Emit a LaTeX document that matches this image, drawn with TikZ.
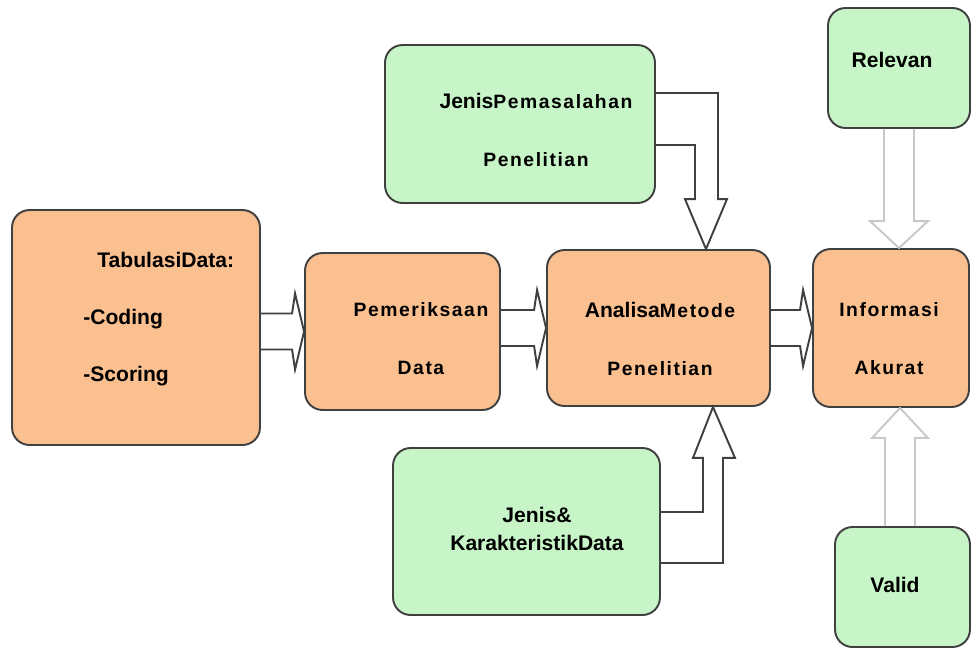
\documentclass[tikz,border=0pt]{standalone}
\usepackage{fontspec}
\setmainfont{Liberation Sans}
\newfontfamily\jarang[LetterSpace=8]{Liberation Sans}
\usetikzlibrary{calc,positioning}
\definecolor{kotakoranye}{RGB}{250,192,144}
\definecolor{kotakhijau}{RGB}{199,245,199}
\definecolor{garisgelap}{RGB}{64,64,64}
\definecolor{garisterang}{RGB}{200,200,200}
\newcommand{\tebal}{\fontsize{12}{14.4}\selectfont\rmfamily\bfseries}
\newcommand{\renggang}{\fontsize{11}{14}\selectfont\jarang\bfseries}
% panah blok mendatar dari kotak #1 ke kotak #2
\newcommand{\hpanah}[2]{%
  \draw[panah] let \p1=(#1.east), \p2=(#2.west) in
    (\x1,\y2+0.36cm) -- (\x2-0.24cm,\y2+0.36cm) -- (\x2-0.18cm,\y2+0.76cm) -- (\x2,\y2)
    -- (\x2-0.18cm,\y2-0.76cm) -- (\x2-0.24cm,\y2-0.36cm) -- (\x1,\y2-0.36cm);}

\begin{document}
\begin{tikzpicture}[
        x=0.02cm, y=-0.02cm,
        box/.style={rectangle, rounded corners=0.35cm, draw=garisgelap, line width=1.1pt,
            fill=#1, inner sep=0pt},
        teks/.style={align=center, inner sep=0pt, text=black, font=\renggang},
        panah/.style={draw=garisgelap, line width=1.1pt, line join=miter},
        panahterang/.style={draw=garisterang, line width=1.1pt, line join=miter}
    ]
        \useasboundingbox (0,0) rectangle (971,657);

        % Kotak-kotak
        \node[box=kotakoranye, minimum width=4.96cm, minimum height=4.70cm] (tabulasi) at (136,327.5) {};
        \node[box=kotakoranye, minimum width=3.90cm, minimum height=3.14cm] (periksa) at (402.5,331.5) {};
        \node[box=kotakoranye, minimum width=4.46cm, minimum height=3.12cm] (analisa) at (658.5,328) {};
        \node[box=kotakoranye, minimum width=3.12cm, minimum height=3.16cm] (info) at (891,328) {};
        \node[box=kotakhijau, minimum width=5.40cm, minimum height=3.16cm] (masalah) at (520,124) {};
        \node[box=kotakhijau, minimum width=5.34cm, minimum height=3.34cm] (karakter) at (526.5,531.5) {};
        \node[box=kotakhijau, minimum width=2.84cm, minimum height=2.40cm] (relevan) at (899,68) {};
        \node[box=kotakhijau, minimum width=2.70cm, minimum height=2.40cm] (valid) at (902.5,587) {};

        % Tulisan
        \node[teks, align=left, anchor=west, font=\tebal] (tabulasi-teks) at (83,319)
            {\hspace*{8pt}TabulasiData:\\[18pt]-Coding\\[18pt]-Scoring};
        \node[teks] (periksa-teks) at (421,339) {Pemeriksaan\\[19pt]Data};
        \node[teks] (analisa-teks) at (660,339) {{\tebal Analisa}Metode\\[19pt]Penelitian};
        \node[teks] (info-teks) at (889,339) {Informasi\\[19pt]Akurat};
        \node[teks] (masalah-teks) at (536,130) {{\tebal Jenis}Pemasalahan\\[19pt]Penelitian};
        \node[teks, font=\tebal] (karakter-teks) at (537,529) {Jenis\&\\[1.6pt]KarakteristikData};
        \node[teks, font=\tebal] (relevan-teks) at (892,60) {Relevan};
        \node[teks, font=\tebal] (valid-teks) at (895,585) {Valid};

        % Panah mendatar
        \hpanah{tabulasi}{periksa}
        \hpanah{periksa}{analisa}
        \hpanah{analisa}{info}

        % Panah siku ke Analisa
        \draw[panah] let \p1=(masalah.east), \p2=(analisa.north), \p3=($(analisa.north)+(47.5,0)$) in
            (\x1,\y1+0.62cm) -- (\x3+0.24cm,\y1+0.62cm) -- (\x3+0.24cm,\y2+1cm) -- (\x3+0.42cm,\y2+1cm)
            -- (\x3,\y2) -- (\x3-0.42cm,\y2+1cm) -- (\x3-0.22cm,\y2+1cm) -- (\x3-0.22cm,\y1-0.42cm)
            -- (\x1,\y1-0.42cm);
        \draw[panah] let \p1=(karakter.east), \p2=(analisa.south), \p3=($(analisa.south)+(54.5,0)$) in
            (\x1,\y1-0.63cm) -- (\x3+0.2cm,\y1-0.63cm) -- (\x3+0.2cm,\y2-1.02cm) -- (\x3+0.44cm,\y2-1.02cm)
            -- (\x3,\y2) -- (\x3-0.4cm,\y2-1.02cm) -- (\x3-0.2cm,\y2-1.02cm) -- (\x3-0.2cm,\y1+0.39cm)
            -- (\x1,\y1+0.39cm);

        % Panah terang ke Informasi
        \draw[panahterang] let \p1=(relevan.south), \p2=(info.north) in
            (\x1-0.3cm,\y1) -- (\x1-0.3cm,\y2+0.54cm) -- (\x1-0.58cm,\y2+0.54cm) -- (\x1,\y2)
            -- (\x1+0.58cm,\y2+0.54cm) -- (\x1+0.3cm,\y2+0.54cm) -- (\x1+0.3cm,\y1);
        \draw[panahterang] let \p1=(valid.north), \p2=(info.south) in
            (\x1-0.35cm,\y1) -- (\x1-0.35cm,\y2-0.6cm) -- (\x1-0.61cm,\y2-0.6cm) -- (\x1-0.05cm,\y2)
            -- (\x1+0.51cm,\y2-0.6cm) -- (\x1+0.25cm,\y2-0.6cm) -- (\x1+0.25cm,\y1);
    \end{tikzpicture}
\end{document}
